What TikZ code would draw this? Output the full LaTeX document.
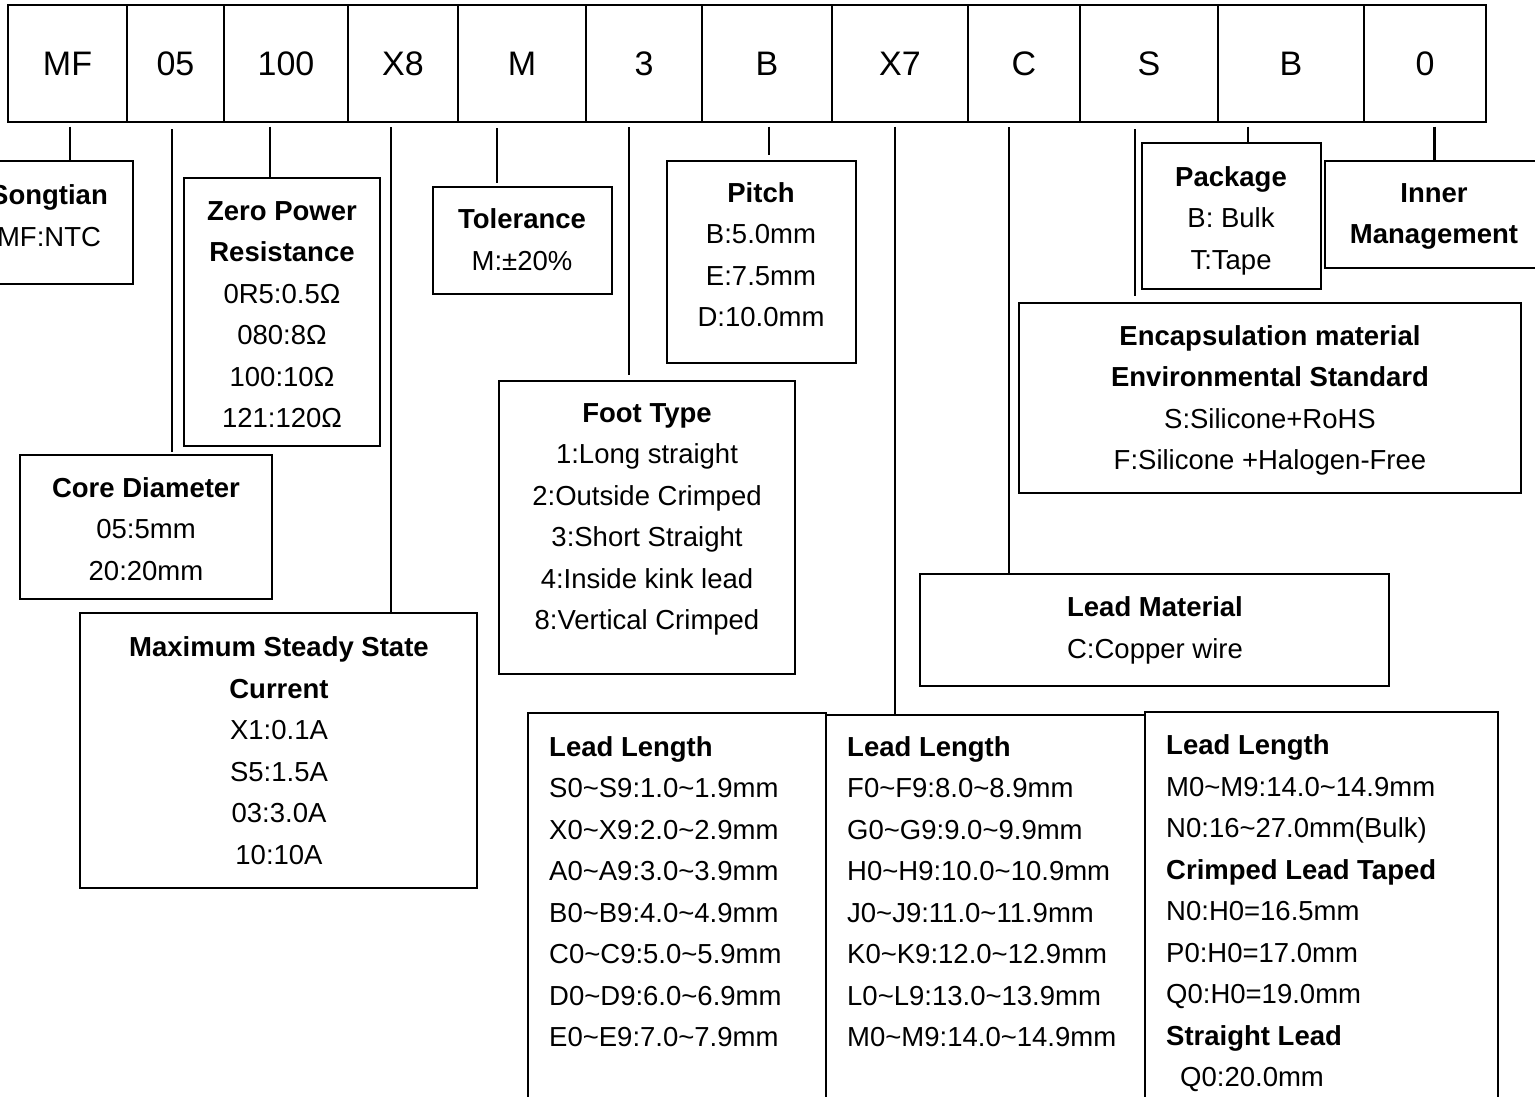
\documentclass[tikz,border=0pt]{standalone}
\usepackage{fontspec}
\setmainfont{Liberation Sans}
\usetikzlibrary{calc}
\tikzset{
  cell/.style={draw, line width=2.3pt, inner sep=0pt, minimum height=117pt, font=\fontsize{34}{40}\selectfont},
  box/.style={draw, line width=2.3pt, inner sep=0pt},
  txt/.style={align=center, inner sep=0pt, font=\fontsize{27.5}{41.5}\selectfont,
              execute at begin node=\strut, execute at end node=\strut},
  ltxt/.style={txt, align=left, anchor=west},
  link/.style={line width=2.3pt},
}
\begin{document}
\begin{tikzpicture}[x=1pt, y=-1pt]
\fill[white] (0,0) rectangle (1535,1097);
% top row cells
\node[cell, minimum width=119pt] (c1) at (67.5,63.5) {MF};
\node[cell, minimum width=97pt]  (c2) at (175.5,63.5) {05};
\node[cell, minimum width=124pt] (c3) at (286,63.5) {100};
\node[cell, minimum width=110pt] (c4) at (403,63.5) {X8};
\node[cell, minimum width=128pt] (c5) at (522,63.5) {M};
\node[cell, minimum width=116pt] (c6) at (644,63.5) {3};
\node[cell, minimum width=130pt] (c7) at (767,63.5) {B};
\node[cell, minimum width=136pt] (c8) at (900,63.5) {X7};
\node[cell, minimum width=112pt] (c9) at (1024,63.5) {C};
\node[cell, minimum width=138pt] (c10) at (1149,63.5) {S};
\node[cell, minimum width=146pt] (c11) at (1291,63.5) {B};
\node[cell, minimum width=122pt] (c12) at (1425,63.5) {0};

% boxes
\node[box, minimum width=168pt, minimum height=123pt] (sg) at (49,222.5) {};
\node[box, minimum width=196pt, minimum height=268pt] (zp) at (282,312) {};
\node[box, minimum width=252pt, minimum height=144pt] (cd) at (146,527) {};
\node[box, minimum width=397pt, minimum height=275pt] (ms) at (278.5,750.5) {};
\node[box, minimum width=179pt, minimum height=107pt] (tol) at (522.5,240.5) {};
\node[box, minimum width=189pt, minimum height=202pt] (pitch) at (761.5,262) {};
\node[box, minimum width=296pt, minimum height=293pt] (ft) at (647,527.5) {};
\node[box, minimum width=179pt, minimum height=146pt] (pkg) at (1231.5,216) {};
\node[box, minimum width=220pt, minimum height=107pt] (inner) at (1435,214.5) {};
\node[box, minimum width=502pt, minimum height=190pt] (enc) at (1270,398) {};
\node[box, minimum width=469pt, minimum height=112pt] (lm) at (1154.5,630) {};
\node[box, minimum width=298pt, minimum height=407pt] (ll1) at (677,916.5) {};
\node[box, minimum width=319pt, minimum height=405pt] (ll2) at (985.5,917.5) {};
\node[box, minimum width=353pt, minimum height=408pt] (ll3) at (1321.5,916) {};

% texts
\node[txt] (tsg) at (49,222) {\textbf{Songtian}\\MF:NTC};
\node[txt] (tzp) at (282,320.7) {\textbf{Zero Power}\\\textbf{Resistance}\\0R5:0.5Ω\\080:8Ω\\100:10Ω\\121:120Ω};
\node[txt] (tcd) at (146,535) {\textbf{Core Diameter}\\05:5mm\\20:20mm};
\node[txt] (tms) at (279,756.7) {\textbf{Maximum Steady State}\\\textbf{Current}\\X1:0.1A\\S5:1.5A\\03:3.0A\\10:10A};
\node[txt] (ttol) at (522,246) {\textbf{Tolerance}\\M:±20\%};
\node[txt] (tpitch) at (761,261) {\textbf{Pitch}\\B:5.0mm\\E:7.5mm\\D:10.0mm};
\node[txt] (tft) at (647,523) {\textbf{Foot Type}\\1:Long straight\\2:Outside Crimped\\3:Short Straight\\4:Inside kink lead\\8:Vertical Crimped};
\node[txt] (tpkg) at (1231,224) {\textbf{Package}\\B: Bulk\\T:Tape};
\node[txt] (tinner) at (1434,220) {\textbf{Inner}\\\textbf{Management}};
\node[txt] (tenc) at (1270,404) {\textbf{Encapsulation material}\\\textbf{Environmental Standard}\\S:Silicone+RoHS\\F:Silicone +Halogen-Free};
\node[txt] (tlm) at (1155,634) {\textbf{Lead Material}\\C:Copper wire};
\node[ltxt] (tll1) at (549,897.7) {\textbf{Lead Length}\\S0\textasciitilde S9:1.0\textasciitilde 1.9mm\\X0\textasciitilde X9:2.0\textasciitilde 2.9mm\\A0\textasciitilde A9:3.0\textasciitilde 3.9mm\\B0\textasciitilde B9:4.0\textasciitilde 4.9mm\\C0\textasciitilde C9:5.0\textasciitilde 5.9mm\\D0\textasciitilde D9:6.0\textasciitilde 6.9mm\\E0\textasciitilde E9:7.0\textasciitilde 7.9mm};
\node[ltxt] (tll2) at (847,897.7) {\textbf{Lead Length}\\F0\textasciitilde F9:8.0\textasciitilde 8.9mm\\G0\textasciitilde G9:9.0\textasciitilde 9.9mm\\H0\textasciitilde H9:10.0\textasciitilde 10.9mm\\J0\textasciitilde J9:11.0\textasciitilde 11.9mm\\K0\textasciitilde K9:12.0\textasciitilde 12.9mm\\L0\textasciitilde L9:13.0\textasciitilde 13.9mm\\M0\textasciitilde M9:14.0\textasciitilde 14.9mm};
\node[ltxt] (tll3) at (1166,917) {\textbf{Lead Length}\\M0\textasciitilde M9:14.0\textasciitilde 14.9mm\\N0:16\textasciitilde 27.0mm(Bulk)\\\textbf{Crimped Lead Taped}\\N0:H0=16.5mm\\P0:H0=17.0mm\\Q0:H0=19.0mm\\\textbf{Straight Lead}\\\hspace*{14pt}Q0:20.0mm};

% connectors
\draw[link] ($(c1.south)+(2.5,3.5)$) coordinate (k1) -- (k1 |- sg.north);
\draw[link] ($(c2.south)+(-3.5,6)$) coordinate (k2) -- ($(k2 |- cd.north)+(0,-2)$);
\draw[link] ($(c3.south)+(-16,3.5)$) coordinate (k3) -- (k3 |- zp.north);
\draw[link] ($(c4.south)+(-12,4)$) coordinate (k4) -- (k4 |- ms.north);
\draw[link] ($(c5.south)+(-25,5)$) coordinate (k5) -- ($(k5 |- tol.north)+(0,-3)$);
\draw[link] ($(c6.south)+(-15,4)$) coordinate (k6) -- ($(k6 |- ft.north)+(0,-5)$);
\draw[link] ($(c7.south)+(2,3.5)$) coordinate (k7) -- ($(k7 |- pitch.north)+(0,-5)$);
\draw[link] ($(c8.south)+(-5,3.5)$) coordinate (k8) -- (k8 |- ll2.north);
\draw[link] ($(c9.south)+(-15,4)$) coordinate (k9) -- (k9 |- lm.north);
\draw[link] ($(c10.south)+(-14,6)$) coordinate (k10) -- ($(k10 |- enc.north)+(0,-6)$);
\draw[link] ($(c11.south)+(-43,3.5)$) coordinate (k11) -- (k11 |- pkg.north);
\draw[link] ($(c12.south)+(9.5,3.5)$) coordinate (k12) -- (k12 |- inner.north);

\pgfresetboundingbox
\path[use as bounding box] (0,0) rectangle (1535,1097);
\end{tikzpicture}
\end{document}
